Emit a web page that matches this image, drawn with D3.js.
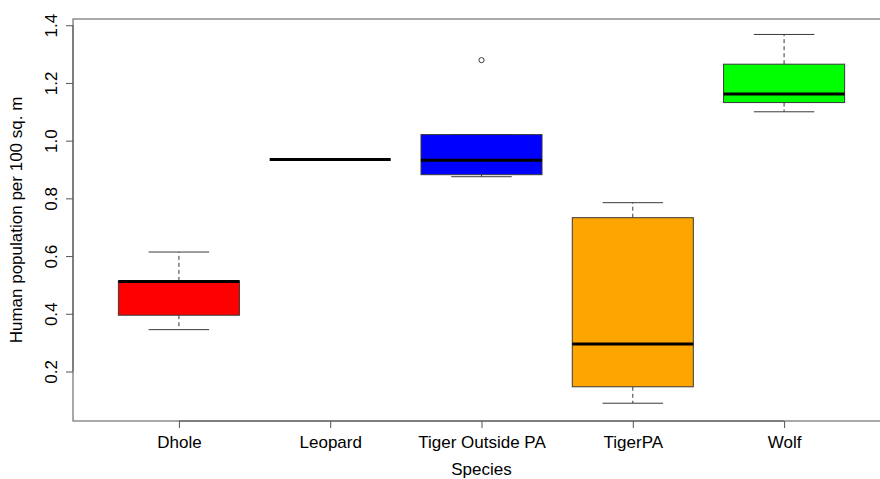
<!DOCTYPE html>
<html>
<head>
<meta charset="utf-8">
<script src="https://cdn.jsdelivr.net/npm/d3@7"></script>
<style>
  body { margin: 0; background: #fff; }
  text { font-family: "Liberation Sans", Arial, sans-serif; fill: #000; }
</style>
</head>
<body>
<svg id="chart" width="880" height="479"></svg>
<script>
// datos
const species = ["Dhole", "Leopard", "Tiger Outside PA", "TigerPA", "Wolf"];
const lowWhisker = [0.345, 0.935, 0.875, 0.090, 1.100];
const q1 = [0.395, 0.935, 0.882, 0.147, 1.132];
const median = [0.512, 0.935, 0.932, 0.295, 1.162];
const q3 = [0.514, 0.935, 1.021, 0.733, 1.265];
const highWhisker = [0.614, 0.935, 1.021, 0.785, 1.368];
const outliers = [[], [], [1.279], [], []];
const fills = ["#ff0000", "#ffffff", "#0000ff", "#ffa500", "#00ff00"];
const yTicks = [0.2, 0.4, 0.6, 0.8, 1.0, 1.2, 1.4];

const svg = d3.select("#chart");
const plot = {left: 73, right: 890, top: 19, bottom: 421};

// escalas al estilo de R (rango extendido 4%)
const x = d3.scaleLinear().domain([0.3, 5.7]).range([plot.left, plot.right]);
const y = d3.scaleLinear().domain([0.0284, 1.4216]).range([plot.bottom, plot.top]);
const boxW = x(1.4) - x(1);

const fg = "#3a3a3a";

// cajas
species.forEach((s, i) => {
  const cx = x(i + 1);
  const g = svg.append("g");
  // bigotes
  g.append("line").attr("x1", cx).attr("x2", cx)
    .attr("y1", y(q3[i])).attr("y2", y(highWhisker[i]))
    .attr("stroke", fg).attr("stroke-dasharray", "4,3");
  g.append("line").attr("x1", cx).attr("x2", cx)
    .attr("y1", y(q1[i])).attr("y2", y(lowWhisker[i]))
    .attr("stroke", fg).attr("stroke-dasharray", "4,3");
  [lowWhisker[i], highWhisker[i]].forEach(v => {
    g.append("line").attr("x1", cx - boxW / 2).attr("x2", cx + boxW / 2)
      .attr("y1", y(v)).attr("y2", y(v)).attr("stroke", fg);
  });
  g.append("rect")
    .attr("x", cx - boxW).attr("width", boxW * 2)
    .attr("y", y(q3[i])).attr("height", y(q1[i]) - y(q3[i]))
    .attr("fill", fills[i]).attr("stroke", q3[i] > q1[i] ? fg : "none");
  g.append("line").attr("x1", cx - boxW).attr("x2", cx + boxW)
    .attr("y1", y(median[i])).attr("y2", y(median[i]))
    .attr("stroke", "#000").attr("stroke-width", 3);
  outliers[i].forEach(v => {
    g.append("circle").attr("cx", cx).attr("cy", y(v)).attr("r", 2.6)
      .attr("fill", "none").attr("stroke", fg);
  });
});

// marco
svg.append("rect")
  .attr("x", plot.left).attr("y", plot.top)
  .attr("width", plot.right - plot.left).attr("height", plot.bottom - plot.top)
  .attr("fill", "none").attr("stroke", "#555");

// eje y
const yAxis = svg.append("g")
  .attr("transform", `translate(${plot.left},0)`)
  .call(d3.axisLeft(y).tickValues(yTicks).tickFormat(d3.format(".1f")).tickSize(7).tickPadding(0));
yAxis.select(".domain").attr("d", `M-0,${y(0.2)}V${y(1.4)}`).attr("stroke", "#555");
yAxis.selectAll(".tick line").attr("stroke", "#555");
yAxis.selectAll(".tick text")
  .attr("x", 0).attr("dy", null)
  .attr("transform", "translate(-16,0) rotate(-90)")
  .attr("text-anchor", "middle").attr("dominant-baseline", "auto")
  .style("font-size", "17px").style("fill", "#000");

// eje x
const xAxis = svg.append("g")
  .attr("transform", `translate(0,${plot.bottom})`)
  .call(d3.axisBottom(x).tickValues([1, 2, 3, 4, 5]).tickFormat((d) => species[d - 1]).tickSize(7).tickPadding(0));
xAxis.select(".domain").attr("d", `M${x(1)},0H${x(5)}`).attr("stroke", "#555");
xAxis.selectAll(".tick line").attr("stroke", "#555");
xAxis.selectAll(".tick text")
  .attr("y", 27).attr("dy", null)
  .style("font-size", "17px").style("fill", "#000");

// titulos
svg.append("text")
  .attr("x", (plot.left + plot.right) / 2).attr("y", 475)
  .attr("text-anchor", "middle").style("font-size", "17px")
  .text("Species");
svg.append("text")
  .attr("transform", `translate(22,${(plot.top + plot.bottom) / 2}) rotate(-90)`)
  .attr("text-anchor", "middle").style("font-size", "17px")
  .text("Human population per 100 sq. m");
</script>
</body>
</html>
